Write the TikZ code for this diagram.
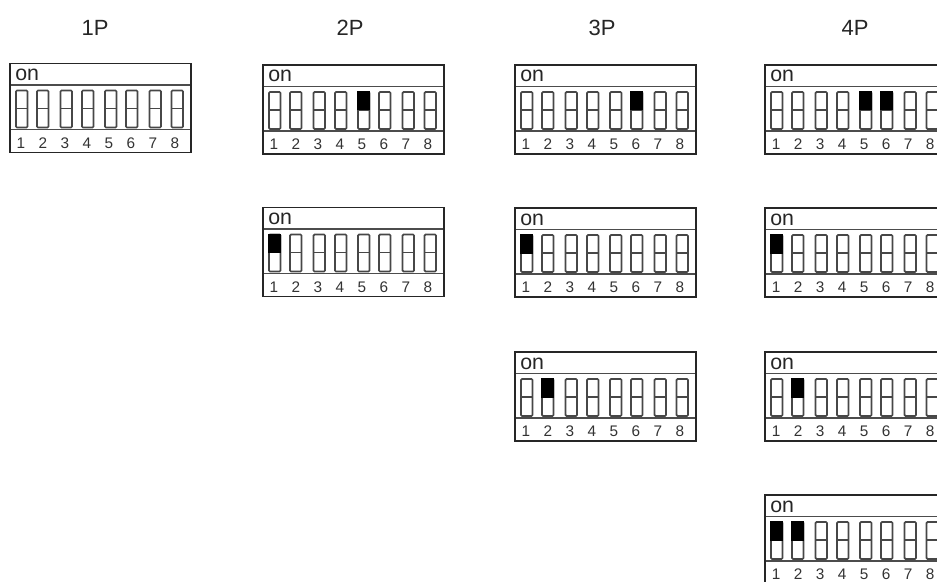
\documentclass[tikz,border=0pt]{standalone}
\usepackage{fontspec}
\setmainfont{Liberation Sans}
\tikzset{
  px/.style={x=0.75pt,y=-0.75pt},
  frameline/.style={draw=black!85,line width=1pt},
  innerline/.style={draw=black!70,line width=1pt},
  slot/.style={draw=black!72,line width=1.25pt,rounded corners=0.8pt},
  onfill/.style={fill=black},
  title/.style={font=\fontsize{16.5}{18}\selectfont,text=black!85,inner sep=0pt},
  ontext/.style={font=\fontsize{16}{18}\selectfont,text=black!85,inner sep=0pt,anchor=base west},
  num/.style={font=\fontsize{11.5}{13}\selectfont,text=black!80,inner sep=0pt,anchor=base},
}
% #1 name, #2 left, #3 top, #4 list of switches that are on
\newcommand{\dipbox}[4]{%
  \begin{scope}[shift={(#2,#3)}]
    \node[ontext] (#1on) at (5,17) {on};
    \foreach \n/\sx/\dx in {1/6/11,2/27/33,3/50.5/55,4/72/77,5/95/99,6/116/121,7/139.5/143,8/161.5/165}{
      \draw[slot] (\sx,27) rectangle (\sx+11.5,64);
      \draw[slot] (\sx,45) -- (\sx+11.5,45);
      \node[num] (#1n\n) at (\dx,84.5) {\n};
      \foreach \m in {#4}{
        \ifnum\m=\n
          \fill[onfill] (\sx-0.6,26.4) rectangle (\sx+12.1,45.5);
        \fi
      }
    }
    \draw[innerline] (0,21.5) -- (181,21.5);
    \draw[innerline] (0,66) -- (181,66);
    \draw[frameline] (0,0) rectangle (181,89);
  \end{scope}
}
\begin{document}
\begin{tikzpicture}[px]
\useasboundingbox (0,0) rectangle (937,581);
\fill[white] (0,0) rectangle (937,581);
\node[title] (t1) at (95,28) {1P};
\node[title] (t2) at (350,28) {2P};
\node[title] (t3) at (602,28) {3P};
\node[title] (t4) at (855,28) {4P};
\dipbox{a}{10}{63.5}{0}
\dipbox{b}{263}{65}{5}
\dipbox{c}{263}{207.5}{1}
\dipbox{d}{515}{65}{6}
\dipbox{e}{515}{208}{1}
\dipbox{f}{515}{352}{2}
\dipbox{g}{765}{65}{5,6}
\dipbox{h}{765}{208}{1}
\dipbox{i}{765}{352}{2}
\dipbox{j}{765}{495}{1,2}
\end{tikzpicture}
\end{document}
